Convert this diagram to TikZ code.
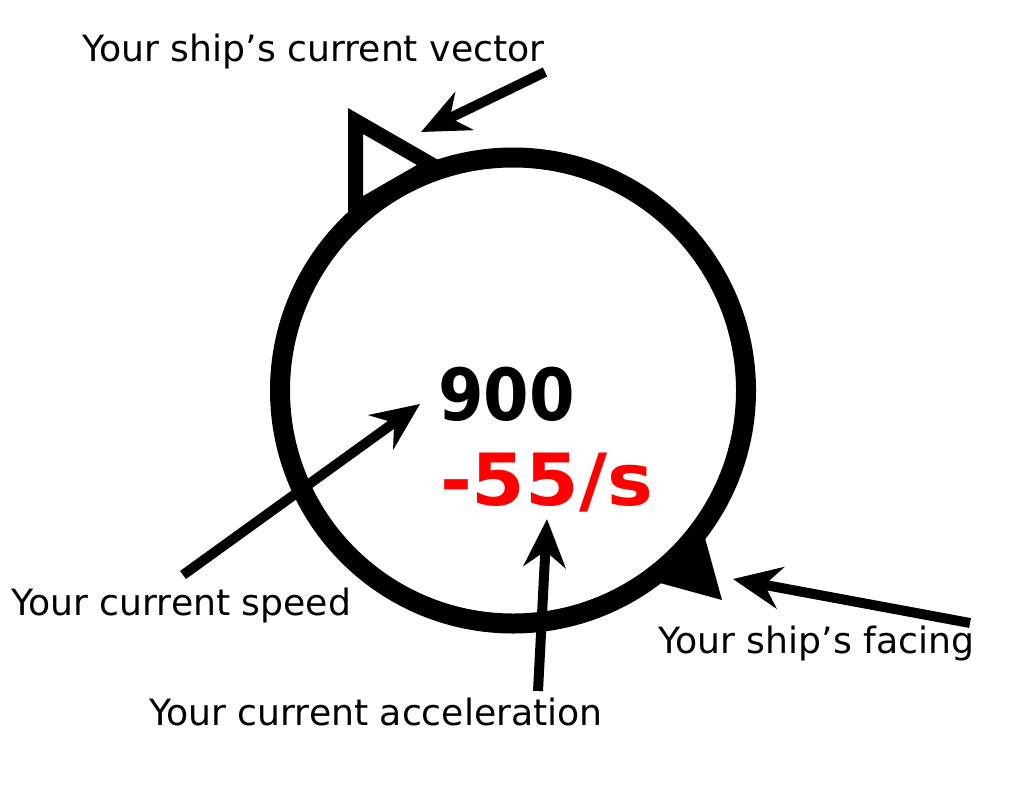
\documentclass[tikz,border=0pt]{standalone}
\usepackage{fontspec}
\setmainfont{DejaVu Sans}
\usetikzlibrary{arrows.meta}
\definecolor{HudInk}{gray}{0}
\definecolor{HudRed}{rgb}{1,0,0}
\tikzset{
    hud/diagram/.style={
        line cap=butt,
        line join=miter,
        every node/.style={inner sep=0pt, outer sep=0pt}
    },
    hud/ring/.style={draw=HudInk, line width=20pt},
    hud/vector/.style={draw=HudInk, line width=15pt, line join=miter},
    hud/facing/.style={fill=HudInk, draw=none},
    hud/pointer/.style={
        draw=HudInk, line width=10pt,
        -{Stealth[length=48pt, width=42pt, inset=16pt]}
    },
    hud/label/.style={anchor=base west, text=HudInk,
        font=\fontsize{36.2}{40}\selectfont},
    hud/readout/.style={anchor=base west,
        font=\fontsize{72}{80}\selectfont\bfseries}
}

\begin{document}
\begin{tikzpicture}[hud/diagram, x=1pt, y=-1pt]
    \useasboundingbox (0,0) rectangle (1024,808);
    % ship marker: vector triangle, facing wedge, ring
    \coordinate (hub) at (513,390.5);
    \draw[hud/vector] (355.5,121) -- (432,165) -- (355.5,209) -- cycle;
    \fill[hud/facing] (660,583) -- (722,600) -- (705,538) -- cycle;
    \fill[white] (hub) circle (233);
    \draw[hud/ring] (hub) circle (233);
    \node[hud/readout, xscale=0.91] (speed) at (438,420) {900};
    \node[hud/readout, text=HudRed, xscale=1.07] (rate) at (440,505) {-55/s};
    % labels
    \node[hud/label] (vectorlabel) at (82,62) {Your ship’s current vector};
    \node[hud/label] (speedlabel) at (11,615) {Your current speed};
    \node[hud/label] (accellabel) at (149,725) {Your current acceleration};
    \node[hud/label] (facinglabel) at (658,653) {Your ship’s facing};
    % pointers
    \coordinate (vectail) at (545,72);
    \coordinate (vectip) at (421,132);
    \coordinate (speedtail) at (183,575);
    \coordinate (speedtip) at (420,404);
    \coordinate (acceltail) at (538,691);
    \coordinate (acceltip) at (547,519);
    \coordinate (facingtail) at (970,623);
    \coordinate (facingtip) at (733,579);
    \draw[hud/pointer] (vectail) -- (vectip);
    \draw[hud/pointer] (speedtail) -- (speedtip);
    \draw[hud/pointer] (acceltail) -- (acceltip);
    \draw[hud/pointer] (facingtail) -- (facingtip);
\end{tikzpicture}
\end{document}
